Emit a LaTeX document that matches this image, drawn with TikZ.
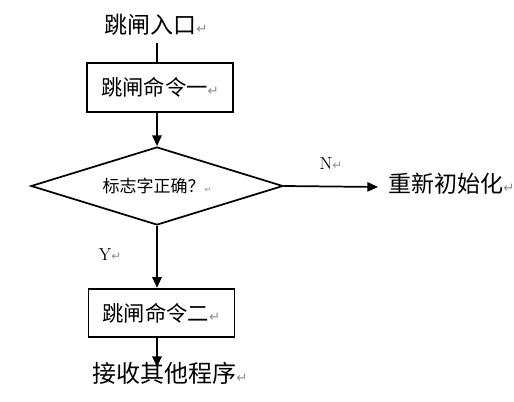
\documentclass[tikz,border=0pt]{standalone}
\usepackage{fontspec}
\newfontfamily\cjk{Noto Sans CJK SC}
\newfontfamily\symf{DejaVu Sans}
\usetikzlibrary{shapes.geometric,arrows.meta}
\newcommand{\pmk}[1][10]{{\symf\color{black!45}\fontsize{#1}{#1}\selectfont ↵}}
\tikzset{
  txt/.style={inner sep=0pt, text height=0.88em, text depth=0.12em, anchor=west},
  boxnode/.style={draw, line width=1.3pt, minimum width=109.5pt, minimum height=36.5pt, inner sep=0pt, font=\cjk\fontsize{16}{16}\selectfont},
  lab/.style={inner sep=0pt, font=\fontsize{13}{13}\selectfont},
  arr/.style={line width=1.3pt, -{Triangle[length=8pt,width=7pt]}},
  ln/.style={line width=1.3pt}
}
\begin{document}
\begin{tikzpicture}[x=0.75pt,y=-0.75pt]
\useasboundingbox (0,0) rectangle (514,402);
\node[txt, inner ysep=6pt, font=\cjk\fontsize{17.25}{17.25}\selectfont] (start) at (104,28) {跳闸入口\pmk};
\node[boxnode] (b1) at (160,87.5) {跳闸命令一\pmk};
\node[draw, diamond, line width=1.3pt, aspect=3.2, minimum width=189pt, minimum height=58.5pt, inner sep=0pt, font=\cjk\fontsize{12.75}{12.75}\selectfont] (d) at (157,186) {标志字正确？\pmk[6]};
\node[txt, inner xsep=7.5pt, font=\cjk\fontsize{17.25}{17.25}\selectfont] (re) at (378,187) {重新初始化\pmk};
\node[lab] (n) at (331,164) {N\pmk[9]};
\node[lab] (y) at (110,255) {Y\pmk[9]};
\node[boxnode] (b2) at (161.5,313) {跳闸命令二\pmk};
\node[txt, inner ysep=2.25pt, font=\cjk\fontsize{18}{18}\selectfont] (end) at (92,377) {接收其他程序\pmk};
\draw[ln] (start.south -| d.north) -- (b1.north -| d.north);
\draw[arr] (b1.south -| d.north) -- (d.north);
\draw[arr] (d.east) -- (re.west);
\draw[arr] (d.south) -- (b2.north -| d.south);
\draw[arr] (b2.south -| d.south) -- (d.south |- end.north);
\end{tikzpicture}
\end{document}
